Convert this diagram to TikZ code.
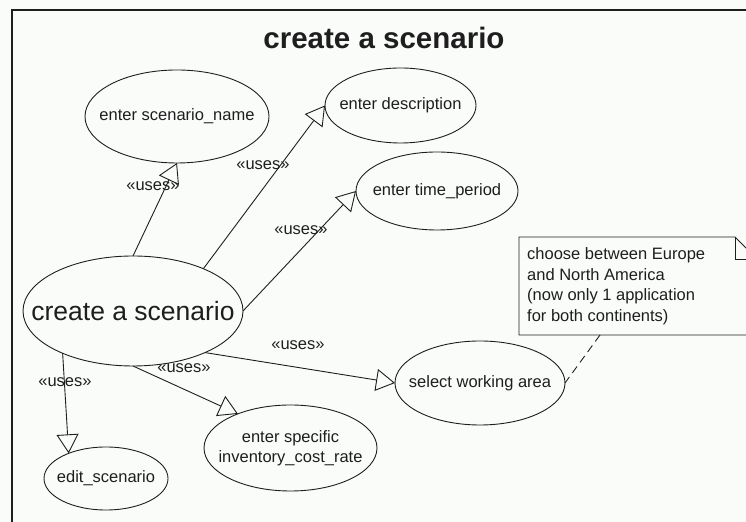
\documentclass[tikz,border=0pt]{standalone}
\usepackage{fontspec}
\setmainfont{Liberation Sans}
\usetikzlibrary{shapes.geometric,arrows.meta}
\definecolor{bgc}{RGB}{250,252,250}
\definecolor{ink}{RGB}{30,30,30}
\begin{document}
\begin{tikzpicture}[x=1bp,y=1bp,
  uc/.style={ellipse, draw=ink, line width=0.9bp, inner sep=0pt, outer sep=0pt},
  uct/.style={text=ink, inner sep=0pt, font=\fontsize{16.5bp}{20bp}\selectfont, align=center},
  uses/.style={draw=ink, line width=0.9bp, -{Triangle[open, length=19bp, width=22bp]}},
  lbl/.style={text=ink, inner sep=0pt, font=\fontsize{16.5bp}{20bp}\selectfont}]
\useasboundingbox (0,0) rectangle (746,522);
\fill[bgc] (0,0) rectangle (746,522);
\clip (0,0) rectangle (746,522);
% frame
\draw[ink, line width=1.6bp] (12,-10) -- (12,512) -- (760,512);
% title
\node[text=ink, font=\fontsize{29.5bp}{31bp}\selectfont\bfseries] (title) at (384,484) {create a scenario};
% use cases
\node[uc, minimum width=184bp, minimum height=93bp] (name) at (177,405.5) {};
\node[uct] (name-t) at (name.center) {enter scenario\_name};
\node[uc, minimum width=151bp, minimum height=75bp] (desc) at (400.5,416.5) {};
\node[uct] (desc-t) at (desc.center) {enter description};
\node[uc, minimum width=162bp, minimum height=78bp] (time) at (437,331) {};
\node[uct] (time-t) at (time.center) {enter time\_period};
\node[uc, minimum width=220bp, minimum height=110bp] (create) at (133,211) {};
\node[uct, font=\fontsize{26.5bp}{30bp}\selectfont] (create-t) at (create.center) {create a scenario};
\node[uc, minimum width=170bp, minimum height=84bp] (select) at (480,139) {};
\node[uct] (select-t) at (select.center) {select working area};
\node[uc, minimum width=173bp, minimum height=86bp] (inv) at (290.5,74) {};
\node[uct] (inv-t) at (inv.center) {enter specific\\inventory\_cost\_rate};
\node[uc, minimum width=124bp, minimum height=63bp] (edit) at (106,43.5) {};
\node[uct] (edit-t) at (edit.center) {edit\_scenario};
% note
\draw[ink, line width=0.9bp, fill=bgc] (519,285) -- (735,285) -- (757,263) -- (757,187) -- (519,187) -- cycle;
\draw[ink, line width=0.9bp] (735,285) -- (735,263) -- (757,263);
\node[anchor=west, align=left, inner sep=0pt, text=ink, font=\fontsize{16.5bp}{20.5bp}\selectfont] (note) at (527,236)
  {choose between Europe\\and North America\\(now only 1 application\\for both continents)};
\coordinate (nb) at (600,187);
\draw[ink, line width=0.9bp, dash pattern=on 8bp off 5bp] (nb) -- (select.east);
% connectors
\draw[uses] (create.north) -- (name.south);
\draw[uses] (create.31.6) -- (desc.west);
\draw[uses] (create.east) -- (time.west);
\draw[uses] (create.-30.3) -- (select.west);
\draw[uses] (create.south) -- (inv.147);
\draw[uses] (create.211.3) -- (edit.146.1);
% labels
\node[lbl] (l1) at (153,336) {«uses»};
\node[lbl] (l2) at (263,357) {«uses»};
\node[lbl] (l3) at (301,292) {«uses»};
\node[lbl] (l4) at (298,177) {«uses»};
\node[lbl] (l5) at (184,154) {«uses»};
\node[lbl] (l6) at (65,140) {«uses»};
\end{tikzpicture}
\end{document}
